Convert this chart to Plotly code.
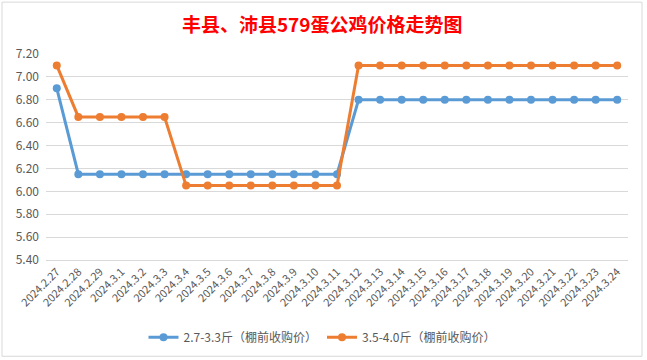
import plotly.graph_objects as go

dates = ["2024.2.27", "2024.2.28", "2024.2.29", "2024.3.1", "2024.3.2", "2024.3.3",
         "2024.3.4", "2024.3.5", "2024.3.6", "2024.3.7", "2024.3.8", "2024.3.9",
         "2024.3.10", "2024.3.11", "2024.3.12", "2024.3.13", "2024.3.14", "2024.3.15",
         "2024.3.16", "2024.3.17", "2024.3.18", "2024.3.19", "2024.3.20", "2024.3.21",
         "2024.3.22", "2024.3.23", "2024.3.24"]
small = [6.90, 6.15, 6.15, 6.15, 6.15, 6.15, 6.15, 6.15, 6.15, 6.15, 6.15, 6.15,
         6.15, 6.15, 6.80, 6.80, 6.80, 6.80, 6.80, 6.80, 6.80, 6.80, 6.80, 6.80,
         6.80, 6.80, 6.80]
large = [7.10, 6.65, 6.65, 6.65, 6.65, 6.65, 6.05, 6.05, 6.05, 6.05, 6.05, 6.05,
         6.05, 6.05, 7.10, 7.10, 7.10, 7.10, 7.10, 7.10, 7.10, 7.10, 7.10, 7.10,
         7.10, 7.10, 7.10]
names = ["2.7-3.3斤（棚前收购价）", "3.5-4.0斤（棚前收购价）"]
ytick_vals = [5.4, 5.6, 5.8, 6.0, 6.2, 6.4, 6.6, 6.8, 7.0, 7.2]

FONT = "Noto Sans CJK SC"
fig = go.Figure()
fig.add_trace(go.Scatter(x=dates, y=small, name=names[0], mode="lines+markers",
                         line=dict(color="#5B9BD5", width=3),
                         marker=dict(size=8, color="#5B9BD5")))
fig.add_trace(go.Scatter(x=dates, y=large, name=names[1], mode="lines+markers",
                         line=dict(color="#ED7D31", width=3),
                         marker=dict(size=8, color="#ED7D31")))

L, R, T, B = 46, 19, 54, 99.5
W, H = 647, 360
pw, ph = W - L - R, H - T - B

def px_x(p):
    return (p - L) / pw

def px_y(p):
    return (H - B - p) / ph

fig.add_shape(type="rect", xref="paper", yref="paper",
              x0=px_x(2), x1=px_x(642), y0=px_y(357), y1=px_y(2),
              line=dict(color="#D9D9D9", width=1), fillcolor="rgba(0,0,0,0)",
              layer="below")

fig.update_layout(
    width=W, height=H,
    margin=dict(l=L, r=R, t=T, b=B, autoexpand=False),
    paper_bgcolor="white", plot_bgcolor="white",
    title=dict(text="<b>丰县、沛县579蛋公鸡价格走势图</b>",
               font=dict(family=FONT, size=19, color="#FF0000"),
               x=0.498, xanchor="center", xref="container",
               y=1 - 25 / H, yanchor="middle", yref="container"),
    xaxis=dict(type="category", range=[-0.5, len(dates) - 0.5], automargin=False,
               tickangle=-45, tickfont=dict(family=FONT, size=11, color="#595959"),
               showgrid=False, showline=True, linecolor="#D9D9D9",
               ticks="", zeroline=False),
    yaxis=dict(range=[5.4, 7.2], tickvals=ytick_vals, automargin=False,
               ticktext=[f"{v:.2f}" for v in ytick_vals],
               tickfont=dict(family=FONT, size=12, color="#595959"),
               showgrid=True, gridcolor="#D9D9D9", gridwidth=1,
               showline=False, zeroline=False, ticks="", ticklabelstandoff=6),
    legend=dict(orientation="h", x=px_x(322), xanchor="center",
                y=px_y(338), yanchor="middle",
                font=dict(family=FONT, size=12, color="#595959"),
                bgcolor="rgba(0,0,0,0)", itemwidth=30, tracegroupgap=0),
    showlegend=True,
)

fig.write_html("out.html", config={"displayModeBar": False},
               post_script="document.body.style.margin='0';")
